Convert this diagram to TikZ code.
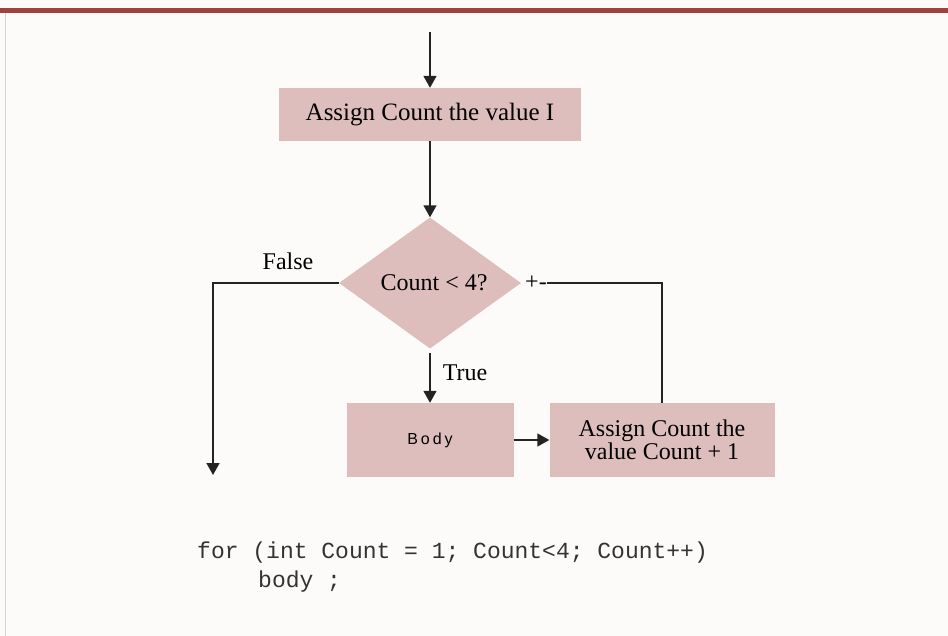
\documentclass[tikz,border=0pt]{standalone}
\usepackage{fontspec}
\setmainfont{Liberation Serif}
\newfontfamily\codefont{Liberation Mono}
\newfontfamily\bodyfont[LetterSpace=18]{Liberation Sans}
\usetikzlibrary{shapes.geometric,arrows.meta}
\definecolor{boxfill}{RGB}{222,190,189}
\definecolor{pagebg}{RGB}{253,250,250}
\definecolor{barcol}{RGB}{158,68,64}
\definecolor{linecol}{RGB}{35,35,35}
\tikzset{
  serif24/.style={font=\fontsize{24pt}{23pt}\selectfont},
  procbox/.style={rectangle, fill=boxfill, inner sep=0pt, serif24, align=center},
  decbox/.style={diamond, fill=boxfill, inner sep=0pt, serif24, minimum width=182pt, minimum height=130pt},
  lbl/.style={inner sep=0pt, serif24},
  flow/.style={draw=linecol, line width=1.6pt, -{Triangle[width=13pt,length=12pt]}},
  flowline/.style={draw=linecol, line width=1.6pt},
  codetxt/.style={inner sep=0pt, anchor=west, text=black!80, font=\codefont\fontsize{23pt}{23pt}\selectfont}
}
\begin{document}
\begin{tikzpicture}[x=1pt,y=-1pt]
\useasboundingbox (0,0) rectangle (948,636);
\fill[pagebg] (0,0) rectangle (948,636);
\fill[barcol] (0,8) rectangle (948,13);
\draw[gray!35, line width=1pt] (5,13) -- (5,636);

\node[procbox, minimum width=302pt, minimum height=53pt, font=\fontsize{25pt}{25pt}\selectfont] (assign1) at (430,114.5) {Assign Count the value I};
\node[decbox] (dec) at (430,283) {\hspace*{8pt}Count < 4?};
\node[lbl] (pm) at (536,283) {+-};
\node[lbl] (false) at (288,261) {False};
\node[lbl] (true) at (465,373) {True};
\node[procbox, minimum width=167pt, minimum height=74pt] (body) at (430,440) {\bodyfont\fontsize{16pt}{16pt}\selectfont Body};
\node[procbox, minimum width=225pt, minimum height=74pt] (incr) at (662,440) {Assign Count the\\value Count + 1};

\coordinate (start) at (430,32);
\coordinate (exit) at (213,475);

\draw[flow] (start) -- (assign1.north);
\draw[flow] (assign1.south) -- (dec.north);
\draw[flow] (dec.west) -| (exit);
\draw[flow, shorten <=4pt] (dec.south) -- (body.north);
\draw[flow] (body.east) -- (incr.west);
\draw[flowline] (pm.east) -| (incr.north);

\node[codetxt] (code1) at (197,553) {for (int Count = 1; Count<4; Count++)};
\node[codetxt] (code2) at (258,582) {body ;};
\end{tikzpicture}
\end{document}
